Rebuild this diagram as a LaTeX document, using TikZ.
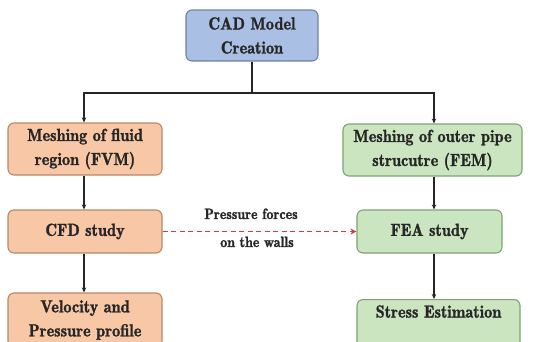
\documentclass[tikz,border=0pt]{standalone}
\usepackage{fontspec}
\newfontfamily\demi[FakeStretch=0.93,FakeBold=1.3]{lmromandemi10-regular.otf}
\usetikzlibrary{arrows.meta}
\definecolor{bluefill}{HTML}{AABFE4}
\definecolor{blueedge}{HTML}{6C82A8}
\definecolor{orfill}{HTML}{F8C7A6}
\definecolor{oredge}{HTML}{B5886A}
\definecolor{grfill}{HTML}{CCE5C1}
\definecolor{gredge}{HTML}{7DA373}
\definecolor{dashred}{HTML}{D23A45}
\tikzset{
  box/.style={draw, rounded corners=6pt, line width=1.1pt, align=center, inner sep=0pt,
    font=\demi\fontsize{17.5}{24}\selectfont, text=black!85},
  bluebox/.style={box, fill=bluefill, draw=blueedge},
  orbox/.style={box, fill=orfill, draw=oredge},
  grbox/.style={box, fill=grfill, draw=gredge},
  arr/.style={draw=black!85, line width=1.3pt, -{Stealth[length=5pt,width=4.5pt]}},
  lbl/.style={font=\demi\fontsize{15}{18}\selectfont, text=black!85, inner sep=0pt}
}
\begin{document}
\begin{tikzpicture}[x=1pt,y=-1pt]
\useasboundingbox (0,0) rectangle (534,341);
\node[bluebox, minimum width=132, minimum height=51] (cad) at (252,35.5) {CAD Model\\Creation};
\node[orbox, minimum width=154, minimum height=52] (mf) at (85,149) {Meshing of fluid\\region (FVM)};
\node[grbox, minimum width=179, minimum height=52] (ms) at (432.5,150) {Meshing of outer pipe\\strucutre (FEM)};
\node[orbox, minimum width=154, minimum height=43] (cfd) at (85,231.5) {CFD study};
\node[grbox, minimum width=145, minimum height=43] (fea) at (429.5,231.5) {FEA study};
\node[orbox, minimum width=154, minimum height=54] (vel) at (85,320) {Velocity and\\Pressure profile};
\node[grbox, minimum width=163, anchor=north, inner ysep=6pt, text height=12pt, text depth=30pt] (se) at (438.5,299) {Stress Estimation};
\coordinate (j) at (252,93);
\draw[line width=1.3pt, draw=black!85] (cad.south) -- (j);
\draw[arr] (j) -| ([xshift=-1pt]mf.north);
\draw[arr] (j) -| ([xshift=1.5pt]ms.north);
\draw[arr] ([xshift=-1pt]mf.south) -- ([xshift=-1pt]cfd.north);
\draw[arr] ([xshift=-1pt]cfd.south) -- ([xshift=-1pt]vel.north);
\draw[arr] ([xshift=1.5pt]ms.south) -- ([xshift=1.5pt]ms.south |- fea.north);
\draw[arr] ([xshift=1.5pt]ms.south |- fea.south) -- ([xshift=1.5pt]ms.south |- se.north);
\draw[dashred, line width=1.8pt, dash pattern=on 5pt off 3.5pt, -{Stealth[length=6pt,width=6pt]}] (cfd.east) -- (fea.west);
\node[lbl, anchor=base] (l1) at (251,219) {Pressure forces};
\node[lbl, anchor=base] (l2) at (257,247) {on the walls};
\end{tikzpicture}
\end{document}
